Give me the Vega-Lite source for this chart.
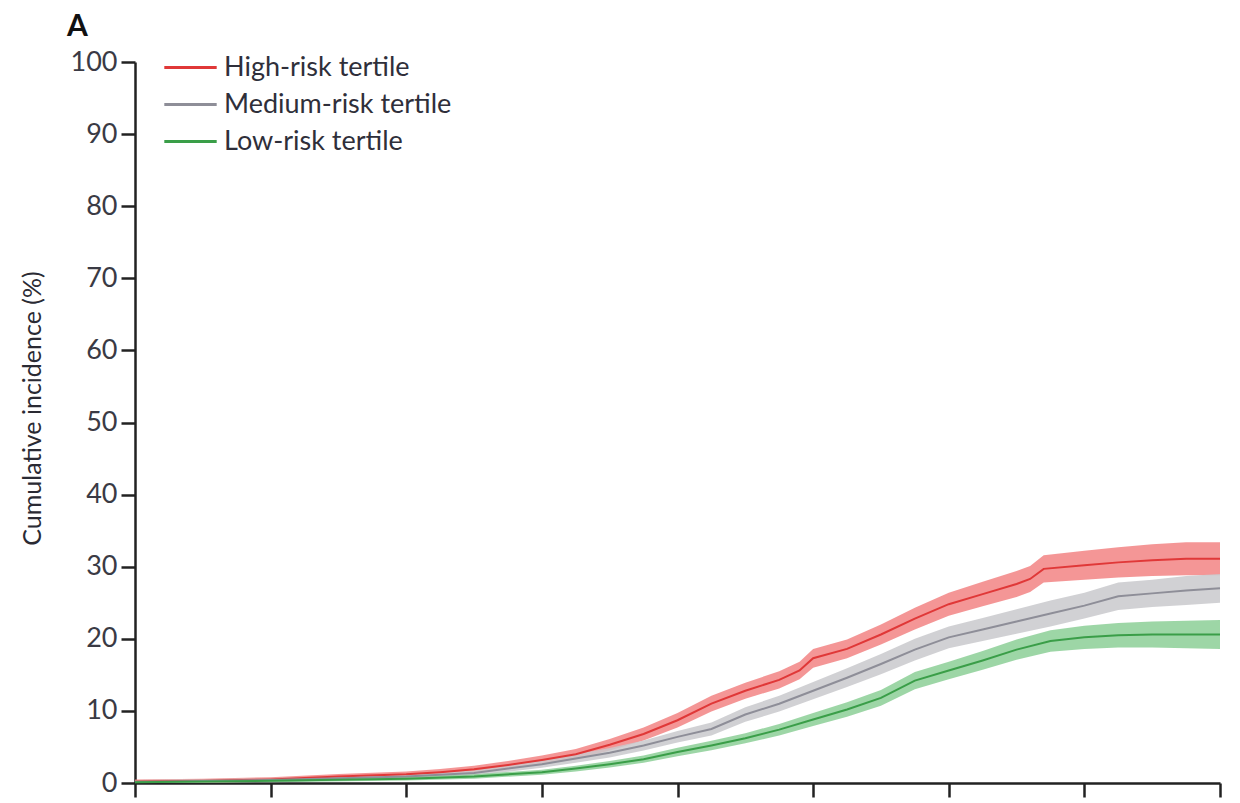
{
  "$schema": "https://vega.github.io/schema/vega-lite/v6.json",
  "width": 1085,
  "height": 721,
  "autosize": {"type": "none"},
  "padding": {"left": 135, "top": 62, "right": 20, "bottom": 20},
  "background": "white",
  "title": {
    "text": "A",
    "anchor": "start",
    "frame": "group",
    "font": "Lato",
    "fontSize": 30,
    "fontWeight": "bold",
    "color": "#111111",
    "dx": -68,
    "dy": 3,
    "offset": 8
  },
  "config": {
    "view": {"stroke": null},
    "font": "Lato"
  },
  "data": {
    "values": [
      {"group": "High-risk tertile", "t": 0, "est": 0.2, "lo": 0.0, "hi": 0.5},
      {"group": "High-risk tertile", "t": 0.5, "est": 0.3, "lo": 0.05, "hi": 0.6},
      {"group": "High-risk tertile", "t": 1.0, "est": 0.5, "lo": 0.2, "hi": 0.8},
      {"group": "High-risk tertile", "t": 1.5, "est": 0.9, "lo": 0.55, "hi": 1.25},
      {"group": "High-risk tertile", "t": 2.0, "est": 1.2, "lo": 0.8, "hi": 1.6},
      {"group": "High-risk tertile", "t": 2.25, "est": 1.5, "lo": 1.05, "hi": 1.95},
      {"group": "High-risk tertile", "t": 2.5, "est": 1.9, "lo": 1.4, "hi": 2.4},
      {"group": "High-risk tertile", "t": 2.75, "est": 2.5, "lo": 1.95, "hi": 3.05},
      {"group": "High-risk tertile", "t": 3.0, "est": 3.2, "lo": 2.6, "hi": 3.8},
      {"group": "High-risk tertile", "t": 3.25, "est": 4.0, "lo": 3.3, "hi": 4.7},
      {"group": "High-risk tertile", "t": 3.5, "est": 5.3, "lo": 4.5, "hi": 6.1},
      {"group": "High-risk tertile", "t": 3.75, "est": 6.8, "lo": 5.9, "hi": 7.7},
      {"group": "High-risk tertile", "t": 4.0, "est": 8.7, "lo": 7.7, "hi": 9.7},
      {"group": "High-risk tertile", "t": 4.25, "est": 11.0, "lo": 9.9, "hi": 12.1},
      {"group": "High-risk tertile", "t": 4.5, "est": 12.8, "lo": 11.7, "hi": 13.9},
      {"group": "High-risk tertile", "t": 4.75, "est": 14.3, "lo": 13.1, "hi": 15.5},
      {"group": "High-risk tertile", "t": 4.9, "est": 15.6, "lo": 14.4, "hi": 16.8},
      {"group": "High-risk tertile", "t": 5.0, "est": 17.3, "lo": 16.0, "hi": 18.6},
      {"group": "High-risk tertile", "t": 5.25, "est": 18.6, "lo": 17.3, "hi": 19.9},
      {"group": "High-risk tertile", "t": 5.5, "est": 20.6, "lo": 19.2, "hi": 22.0},
      {"group": "High-risk tertile", "t": 5.75, "est": 22.8, "lo": 21.3, "hi": 24.3},
      {"group": "High-risk tertile", "t": 6.0, "est": 24.8, "lo": 23.2, "hi": 26.4},
      {"group": "High-risk tertile", "t": 6.25, "est": 26.2, "lo": 24.5, "hi": 27.9},
      {"group": "High-risk tertile", "t": 6.5, "est": 27.6, "lo": 25.8, "hi": 29.4},
      {"group": "High-risk tertile", "t": 6.6, "est": 28.3, "lo": 26.5, "hi": 30.1},
      {"group": "High-risk tertile", "t": 6.7, "est": 29.7, "lo": 27.8, "hi": 31.6},
      {"group": "High-risk tertile", "t": 7.0, "est": 30.2, "lo": 28.2, "hi": 32.2},
      {"group": "High-risk tertile", "t": 7.25, "est": 30.6, "lo": 28.5, "hi": 32.7},
      {"group": "High-risk tertile", "t": 7.5, "est": 30.9, "lo": 28.7, "hi": 33.1},
      {"group": "High-risk tertile", "t": 7.75, "est": 31.1, "lo": 28.8, "hi": 33.4},
      {"group": "High-risk tertile", "t": 8.0, "est": 31.1, "lo": 28.8, "hi": 33.4},

      {"group": "Medium-risk tertile", "t": 0, "est": 0.15, "lo": 0.0, "hi": 0.4},
      {"group": "Medium-risk tertile", "t": 1.0, "est": 0.4, "lo": 0.15, "hi": 0.65},
      {"group": "Medium-risk tertile", "t": 2.0, "est": 0.9, "lo": 0.6, "hi": 1.2},
      {"group": "Medium-risk tertile", "t": 2.5, "est": 1.4, "lo": 1.05, "hi": 1.75},
      {"group": "Medium-risk tertile", "t": 3.0, "est": 2.6, "lo": 2.1, "hi": 3.1},
      {"group": "Medium-risk tertile", "t": 3.25, "est": 3.4, "lo": 2.8, "hi": 4.0},
      {"group": "Medium-risk tertile", "t": 3.5, "est": 4.2, "lo": 3.55, "hi": 4.85},
      {"group": "Medium-risk tertile", "t": 3.75, "est": 5.2, "lo": 4.5, "hi": 5.9},
      {"group": "Medium-risk tertile", "t": 4.0, "est": 6.4, "lo": 5.6, "hi": 7.2},
      {"group": "Medium-risk tertile", "t": 4.25, "est": 7.5, "lo": 6.6, "hi": 8.4},
      {"group": "Medium-risk tertile", "t": 4.5, "est": 9.5, "lo": 8.5, "hi": 10.5},
      {"group": "Medium-risk tertile", "t": 4.75, "est": 11.0, "lo": 9.9, "hi": 12.1},
      {"group": "Medium-risk tertile", "t": 5.0, "est": 12.8, "lo": 11.6, "hi": 14.0},
      {"group": "Medium-risk tertile", "t": 5.25, "est": 14.6, "lo": 13.3, "hi": 15.9},
      {"group": "Medium-risk tertile", "t": 5.5, "est": 16.5, "lo": 15.1, "hi": 17.9},
      {"group": "Medium-risk tertile", "t": 5.75, "est": 18.5, "lo": 17.0, "hi": 20.0},
      {"group": "Medium-risk tertile", "t": 6.0, "est": 20.2, "lo": 18.7, "hi": 21.7},
      {"group": "Medium-risk tertile", "t": 6.25, "est": 21.3, "lo": 19.7, "hi": 22.9},
      {"group": "Medium-risk tertile", "t": 6.5, "est": 22.4, "lo": 20.7, "hi": 24.1},
      {"group": "Medium-risk tertile", "t": 6.75, "est": 23.5, "lo": 21.7, "hi": 25.3},
      {"group": "Medium-risk tertile", "t": 7.0, "est": 24.6, "lo": 22.8, "hi": 26.4},
      {"group": "Medium-risk tertile", "t": 7.25, "est": 25.9, "lo": 24.0, "hi": 27.8},
      {"group": "Medium-risk tertile", "t": 7.5, "est": 26.3, "lo": 24.4, "hi": 28.2},
      {"group": "Medium-risk tertile", "t": 7.75, "est": 26.7, "lo": 24.7, "hi": 28.7},
      {"group": "Medium-risk tertile", "t": 8.0, "est": 27.0, "lo": 25.0, "hi": 29.0},

      {"group": "Low-risk tertile", "t": 0, "est": 0.1, "lo": 0.0, "hi": 0.3},
      {"group": "Low-risk tertile", "t": 1.0, "est": 0.3, "lo": 0.1, "hi": 0.5},
      {"group": "Low-risk tertile", "t": 2.0, "est": 0.6, "lo": 0.35, "hi": 0.85},
      {"group": "Low-risk tertile", "t": 2.5, "est": 0.9, "lo": 0.6, "hi": 1.2},
      {"group": "Low-risk tertile", "t": 3.0, "est": 1.5, "lo": 1.15, "hi": 1.85},
      {"group": "Low-risk tertile", "t": 3.25, "est": 2.0, "lo": 1.6, "hi": 2.4},
      {"group": "Low-risk tertile", "t": 3.5, "est": 2.6, "lo": 2.15, "hi": 3.05},
      {"group": "Low-risk tertile", "t": 3.75, "est": 3.3, "lo": 2.8, "hi": 3.8},
      {"group": "Low-risk tertile", "t": 4.0, "est": 4.3, "lo": 3.7, "hi": 4.9},
      {"group": "Low-risk tertile", "t": 4.25, "est": 5.2, "lo": 4.55, "hi": 5.85},
      {"group": "Low-risk tertile", "t": 4.5, "est": 6.2, "lo": 5.5, "hi": 6.9},
      {"group": "Low-risk tertile", "t": 4.75, "est": 7.4, "lo": 6.6, "hi": 8.2},
      {"group": "Low-risk tertile", "t": 5.0, "est": 8.8, "lo": 7.9, "hi": 9.7},
      {"group": "Low-risk tertile", "t": 5.25, "est": 10.2, "lo": 9.2, "hi": 11.2},
      {"group": "Low-risk tertile", "t": 5.5, "est": 11.8, "lo": 10.7, "hi": 12.9},
      {"group": "Low-risk tertile", "t": 5.75, "est": 14.2, "lo": 13.0, "hi": 15.4},
      {"group": "Low-risk tertile", "t": 6.0, "est": 15.6, "lo": 14.4, "hi": 16.8},
      {"group": "Low-risk tertile", "t": 6.25, "est": 17.0, "lo": 15.7, "hi": 18.3},
      {"group": "Low-risk tertile", "t": 6.5, "est": 18.5, "lo": 17.1, "hi": 19.9},
      {"group": "Low-risk tertile", "t": 6.75, "est": 19.7, "lo": 18.2, "hi": 21.2},
      {"group": "Low-risk tertile", "t": 7.0, "est": 20.2, "lo": 18.6, "hi": 21.8},
      {"group": "Low-risk tertile", "t": 7.25, "est": 20.5, "lo": 18.8, "hi": 22.2},
      {"group": "Low-risk tertile", "t": 7.5, "est": 20.6, "lo": 18.8, "hi": 22.4},
      {"group": "Low-risk tertile", "t": 7.75, "est": 20.6, "lo": 18.7, "hi": 22.5},
      {"group": "Low-risk tertile", "t": 8.0, "est": 20.6, "lo": 18.6, "hi": 22.6}
    ]
  },
  "encoding": {
    "x": {
      "field": "t",
      "type": "quantitative",
      "scale": {"domain": [0, 8], "nice": false, "zero": false},
      "axis": {
        "title": null,
        "values": [0, 1, 2, 3, 4, 5, 6, 7, 8],
        "labels": false,
        "grid": false,
        "domainColor": "#222222",
        "domainWidth": 2.5,
        "tickColor": "#222222",
        "tickWidth": 2.5,
        "tickSize": 14
      }
    }
  },
  "resolve": {
    "scale": {"color": "independent"},
    "legend": {"color": "independent"}
  },
  "layer": [
    {
      "mark": {"type": "area", "opacity": 0.85, "interpolate": "linear"},
      "encoding": {
        "y": {"field": "lo", "type": "quantitative", "scale": {"domain": [0, 100], "nice": false}},
        "y2": {"field": "hi"},
        "color": {
          "field": "group",
          "type": "nominal",
          "scale": {
            "domain": ["Low-risk tertile", "Medium-risk tertile", "High-risk tertile"],
            "range": ["#8ccf96", "#c9c9cc", "#f28484"]
          },
          "legend": null
        }
      }
    },
    {
      "mark": {"type": "line", "strokeWidth": 2, "interpolate": "linear"},
      "encoding": {
        "y": {
          "field": "est",
          "type": "quantitative",
          "scale": {"domain": [0, 100], "nice": false},
          "axis": {
            "title": "Cumulative incidence (%)",
            "values": [0, 10, 20, 30, 40, 50, 60, 70, 80, 90, 100],
            "grid": false,
            "domainColor": "#222222",
            "domainWidth": 2.5,
            "tickColor": "#222222",
            "tickWidth": 2.5,
            "tickSize": 14,
            "labelFont": "Lato",
            "labelFontSize": 27,
            "labelColor": "#3a3a44",
            "labelPadding": 4,
            "titleFont": "Lato",
            "titleFontSize": 25,
            "titleFontWeight": "normal",
            "titleColor": "#2a2a33",
            "titleX": -90,
            "titleY": 346
          }
        },
        "color": {
          "field": "group",
          "type": "nominal",
          "scale": {
            "domain": ["High-risk tertile", "Medium-risk tertile", "Low-risk tertile"],
            "range": ["#e03838", "#8e8e98", "#3a9e48"]
          },
          "legend": {
            "title": null,
            "orient": "none",
            "legendX": 35,
            "legendY": -15,
            "symbolType": "M-1.4,0H1.4",
            "symbolStrokeWidth": 3,
            "symbolSize": 1400,
            "labelFont": "Lato",
            "labelFontSize": 27,
            "labelColor": "#2f2f3a",
            "labelLimit": 500,
            "labelOffset": 13,
            "rowPadding": 3
          }
        }
      }
    }
  ]
}
